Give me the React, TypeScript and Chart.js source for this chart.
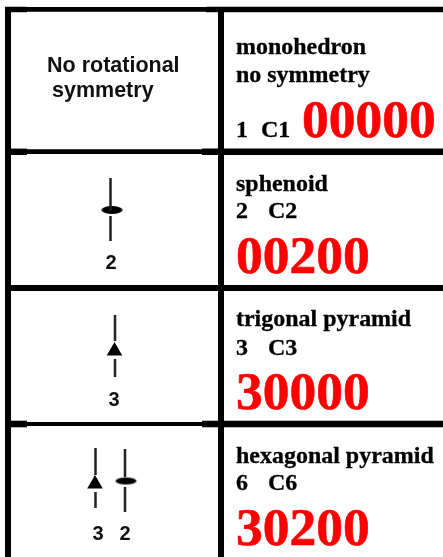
import React, { useEffect, useRef } from "react";
import { Chart, registerables } from "chart.js";

Chart.register(...registerables);

// Table content
const shapeNames = ["monohedron", "sphenoid", "trigonal pyramid", "hexagonal pyramid"];
const orders = ["1", "2", "3", "6"];
const classes = ["C1", "C2", "C3", "C6"];
const codes = ["00000", "00200", "30000", "30200"];
const noSymmetryLines = ["No rotational", "symmetry"];
const noSymmetryNote = "no symmetry";
const axisFoldLabels = [["2", 111], ["3", 114], ["3", 98], ["2", 125]] as [string, number][];

// Layout in image units
const W = 443;
const H = 557;
const SERIF = '"Liberation Serif", serif';
const SANS = '"Liberation Sans", sans-serif';

const rules = [
  { x: [5, 27], y: [9.5, 9.5], w: 5.5 },
  { x: [27, 206], y: [9.3, 9.3], w: 4.7 },
  { x: [206, W], y: [9.5, 9.5], w: 5.5 },
  { x: [5, 27], y: [151.8, 151.8], w: 6.4 },
  { x: [27, 202], y: [151.7, 151.7], w: 4.7 },
  { x: [202, W], y: [151.8, 151.8], w: 6.4 },
  { x: [5, W], y: [288, 288], w: 6 },
  { x: [5, 27], y: [424, 424], w: 6.6 },
  { x: [27, 202], y: [424, 424], w: 4.2 },
  { x: [202, W], y: [424, 424], w: 6.6 },
  { x: [8, 8], y: [7, H], w: 6 },
  { x: [221, 221], y: [7, H], w: 6 },
];
const axisStrokes = [
  { x: 110.5, y: [178, 211] },
  { x: 110.5, y: [216, 241] },
  { x: 115, y: [315, 341] },
  { x: 115, y: [359, 377] },
  { x: 95.5, y: [448, 475] },
  { x: 95.5, y: [492, 508] },
  { x: 125, y: [449, 477] },
  { x: 125, y: [487, 512] },
];
const triangles = [{ x: 114.5, y: 351 }, { x: 95, y: 484 }];
const ellipses = [{ x: 112, y: 210, w: 21, h: 8 }, { x: 126, y: 481, w: 21, h: 7 }];

function ellipseCanvas(w: number, h: number) {
  const c = document.createElement("canvas");
  c.width = w + 2;
  c.height = h + 2;
  const g = c.getContext("2d")!;
  g.fillStyle = "#000";
  g.beginPath();
  g.ellipse(c.width / 2, c.height / 2, w / 2, h / 2, 0, 0, Math.PI * 2);
  g.fill();
  return c;
}

const tablePlugin = {
  id: "tableText",
  afterDatasetsDraw(chart: any) {
    const { ctx, scales } = chart;
    const put = (
      t: string,
      x: number,
      y: number,
      font: string,
      color = "#000",
      align: CanvasTextAlign = "left",
      stretch = 1,
      heavy = 0
    ) => {
      ctx.save();
      ctx.translate(scales.x.getPixelForValue(x), scales.y.getPixelForValue(y));
      ctx.scale(stretch, 1);
      ctx.font = font;
      ctx.fillStyle = color;
      ctx.strokeStyle = color;
      ctx.lineWidth = heavy;
      ctx.textAlign = align;
      ctx.textBaseline = "alphabetic";
      ctx.fillText(t, 0, 0);
      if (heavy > 0) ctx.strokeText(t, 0, 0);
      ctx.restore();
    };
    const nameFont = `bold 22.5px ${SERIF}`;
    const codeFont = `bold 53.5px ${SERIF}`;
    const sansFont = `bold 21.5px ${SANS}`;
    const digitFont = `bold 20px ${SANS}`;
    const name = (t: string, x: number, y: number) => put(t, x, y, nameFont, "#000", "left", 1.065, 0.3);
    const code = (t: string, x: number, y: number) => put(t, x, y, codeFont, "#ff0000", "left", 1, 0.6);
    put(noSymmetryLines[0], 47, 72, sansFont, "#111");
    put(noSymmetryLines[1], 52, 97, sansFont, "#111");
    name(shapeNames[0], 236, 54);
    name(noSymmetryNote, 236, 82);
    name(orders[0], 236, 137);
    name(classes[0], 261, 137);
    code(codes[0], 302, 137);
    const nameY = [191, 326, 463];
    const orderY = [218, 355, 490];
    const codeY = [273, 409, 545];
    [1, 2, 3].forEach((r, i) => {
      name(shapeNames[r], 236, nameY[i]);
      name(orders[r], 236, orderY[i]);
      name(classes[r], 268, orderY[i]);
      code(codes[r], 236, codeY[i]);
    });
    const digitY = [269, 406, 540, 540];
    axisFoldLabels.forEach(([t, x], i) => put(t, x, digitY[i], digitFont, "#111", "center"));
  },
};

export default function App() {
  const ref = useRef<HTMLCanvasElement>(null);
  useEffect(() => {
    document.body.style.margin = "0";
    document.body.style.background = "#fff";
    const lineDs = (pts: { x: number; y: number }[], w: number, color = "#000") => ({
      type: "line" as const,
      data: pts,
      borderColor: color,
      borderWidth: w,
      pointRadius: 0,
      tension: 0,
      borderCapStyle: "butt" as const,
      clip: false,
    });
    const chart = new Chart(ref.current!, {
      type: "scatter",
      data: {
        datasets: [
          ...rules.map((r) => lineDs(r.x.map((x, i) => ({ x, y: r.y[i] })), r.w)),
          ...axisStrokes.map((s) => lineDs(s.y.map((y) => ({ x: s.x, y })), 2.5, "#222")),
          {
            data: triangles,
            pointStyle: "triangle",
            pointRadius: 9,
            pointBackgroundColor: "#000",
            pointBorderWidth: 0,
          },
          ...ellipses.map((e) => ({
            data: [{ x: e.x, y: e.y }],
            pointStyle: ellipseCanvas(e.w, e.h),
            pointRadius: 5,
          })),
        ] as any,
      },
      options: {
        animation: false,
        responsive: false,
        layout: { padding: 0, autoPadding: false },
        plugins: { legend: { display: false }, tooltip: { enabled: false } },
        scales: {
          x: { type: "linear", min: 0, max: W, display: false },
          y: { type: "linear", min: 0, max: H, reverse: true, display: false },
        },
      },
      plugins: [tablePlugin],
    });
    return () => chart.destroy();
  }, []);
  return <canvas ref={ref} width={W} height={H} style={{ display: "block" }} />;
}
